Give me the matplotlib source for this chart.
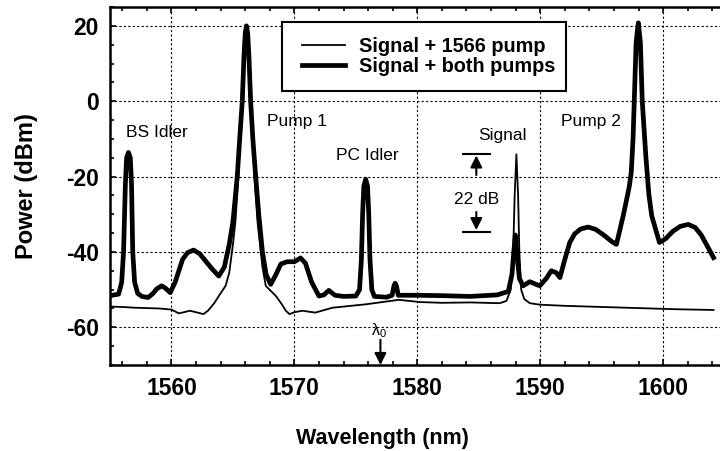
#!/usr/bin/env python3
import numpy as np
import matplotlib
matplotlib.use("Agg")
import matplotlib.pyplot as plt
from matplotlib.patches import Rectangle
from matplotlib.ticker import MultipleLocator

# Signal + 1566 pump (thin trace)
wl_one = [1555.0, 1556.0, 1557.0, 1558.0, 1559.0, 1560.0, 1560.6, 1561.0, 1561.5,
          1562.0, 1562.6, 1563.0, 1563.5, 1563.85, 1564.4, 1564.7, 1565.0, 1565.2,
          1565.45, 1565.7, 1565.85, 1566.0, 1566.1, 1566.2, 1566.35, 1566.5, 1566.75,
          1567.0, 1567.4, 1567.67, 1568.5, 1569.0, 1569.3, 1569.6, 1570.0, 1570.65,
          1571.7, 1573.1, 1575.8, 1578.5, 1580.2, 1582.0, 1584.3, 1586.7, 1587.25,
          1587.6, 1587.8, 1587.92, 1588.06, 1588.2, 1588.3, 1588.45, 1588.7, 1589.15,
          1590.0, 1592.0, 1595.0, 1598.0, 1601.0, 1604.1]
pw_one = [-54.5, -54.6, -54.8, -54.9, -55.0, -55.3, -56.3, -56.0, -55.6,
          -56.0, -56.5, -55.5, -53.5, -51.7, -49.0, -45.5, -38.0, -32.0,
          -20.0, 0.0, 12.0, 19.0, 20.0, 19.0, 12.0, 0.0, -20.0,
          -32.0, -44.0, -49.0, -51.7, -54.0, -55.6, -56.5, -56.0, -55.6,
          -56.1, -54.8, -53.9, -52.7, -53.3, -53.5, -53.4, -53.6, -53.0,
          -50.0, -40.0, -25.0, -14.1, -25.0, -40.0, -50.0, -52.5, -53.6,
          -54.0, -54.3, -54.6, -54.9, -55.2, -55.4]

# Signal + both pumps (thick trace)
wl_both = [1555.0, 1555.7, 1555.95, 1556.1, 1556.25, 1556.35, 1556.5, 1556.65, 1556.75,
           1556.85, 1557.0, 1557.25, 1557.6, 1558.1, 1558.5, 1558.8, 1559.2, 1559.5,
           1559.9, 1560.3, 1560.6, 1560.9, 1561.3, 1561.8, 1562.3, 1562.8, 1563.3,
           1563.85, 1564.3, 1564.7, 1565.0, 1565.35, 1565.55, 1565.76, 1565.9, 1566.0,
           1566.1, 1566.2, 1566.3, 1566.44, 1566.62, 1566.85, 1567.1, 1567.4, 1567.7,
           1568.07, 1568.5, 1568.9, 1569.4, 1570.0, 1570.5, 1570.9, 1571.4, 1572.0,
           1572.4, 1572.8, 1573.3, 1574.0, 1575.0, 1575.3, 1575.45, 1575.55, 1575.65,
           1575.8, 1575.95, 1576.05, 1576.15, 1576.3, 1576.5, 1577.5, 1577.95, 1578.1,
           1578.2, 1578.3, 1578.45, 1580.0, 1582.0, 1584.3, 1586.5, 1587.4, 1587.7,
           1587.85, 1587.97, 1588.1, 1588.3, 1588.6, 1589.15, 1589.96, 1590.5, 1590.9,
           1591.3, 1591.6, 1592.0, 1592.4, 1592.8, 1593.3, 1593.9, 1594.5, 1595.2,
           1595.8, 1596.2, 1596.75, 1597.1, 1597.25, 1597.4, 1597.47, 1597.55, 1597.65,
           1597.8, 1597.98, 1598.15, 1598.3, 1598.5, 1598.6, 1598.7, 1598.78, 1598.85,
           1599.07, 1599.7, 1600.2, 1600.8, 1601.4, 1602.05, 1602.6, 1603.1, 1603.6,
           1604.1]
pw_both = [-51.6, -51.2, -48.0, -40.0, -22.0, -15.0, -13.6, -15.0, -22.0,
           -40.0, -48.0, -51.0, -51.8, -52.1, -51.0, -49.8, -49.0, -49.6,
           -50.8, -48.0, -45.0, -42.0, -40.2, -39.5, -40.5, -42.5, -44.5,
           -46.4, -44.0, -38.0, -32.0, -20.0, -10.0, 0.0, 12.0, 18.0,
           20.0, 18.0, 12.0, 0.0, -10.0, -20.0, -30.0, -40.0, -46.0,
           -48.6, -46.0, -43.2, -42.6, -42.6, -41.6, -43.0, -48.0, -51.7,
           -51.4, -50.2, -51.5, -51.8, -51.7, -50.0, -42.0, -30.0, -22.5,
           -20.7, -22.5, -30.0, -42.0, -50.0, -51.8, -52.0, -51.5, -49.0,
           -48.3, -49.0, -51.5, -51.5, -51.6, -51.8, -51.4, -50.5, -46.0,
           -40.0, -35.5, -40.0, -47.0, -49.0, -47.9, -49.0, -47.0, -45.0,
           -45.5, -46.8, -42.0, -37.5, -35.2, -33.9, -33.4, -34.0, -35.6,
           -37.2, -38.0, -30.4, -25.0, -22.5, -19.0, -15.0, -10.0, 0.0,
           15.5, 20.8, 15.5, 0.0, -10.0, -15.0, -19.0, -22.5, -25.0,
           -30.4, -37.5, -36.5, -34.5, -33.2, -32.7, -33.5, -35.5, -38.5,
           -41.5]

peak_labels = ["BS Idler", "Pump 1", "PC Idler", "Signal", "Pump 2"]
peak_label_x = [1558.8, 1570.2, 1575.9, 1586.95, 1594.1]
peak_label_y = [-8.2, -5.3, -14.3, -9.0, -5.5]

plt.rcParams['font.family'] = ['Liberation Sans', 'DejaVu Sans']
plt.rcParams['axes.unicode_minus'] = False
plt.rcParams['mathtext.default'] = 'regular'

fig = plt.figure(figsize=(7.2, 4.51), dpi=100)
ax = fig.add_axes([0.1528, 0.1907, 0.8536, 0.7938])

ax.plot(wl_one, pw_one, color='black', lw=1.3, label='Signal + 1566 pump', zorder=3)
ax.plot(wl_both, pw_both, color='black', lw=3.4, label='Signal + both pumps',
        solid_joinstyle='round', zorder=2)

ax.set_xlim(1555, 1605)
ax.set_ylim(-70, 25)
ax.xaxis.set_major_locator(MultipleLocator(10))
ax.xaxis.set_minor_locator(MultipleLocator(2))
ax.yaxis.set_major_locator(MultipleLocator(20))
ax.yaxis.set_minor_locator(MultipleLocator(5))
ax.tick_params(which='both', direction='in', top=True, right=False, width=1.2)
ax.tick_params(which='major', length=4, labelsize=16.5)
ax.tick_params(axis='x', which='major', pad=9)
ax.tick_params(axis='y', which='major', pad=8)
ax.tick_params(which='minor', length=3)
for lab in ax.get_xticklabels() + ax.get_yticklabels():
    lab.set_fontweight('bold')
ax.grid(True, which='major', color='black', ls=(0, (2, 2)), lw=0.8)
for s in ax.spines.values():
    s.set_linewidth(1.8)

ax.set_xlabel('Wavelength (nm)', fontsize=15.5, fontweight='bold')
ax.set_ylabel('Power (dBm)', fontsize=17, fontweight='bold')
ax.xaxis.set_label_coords(0.444, -0.175)
ax.yaxis.set_label_coords(-0.117, 0.5)

for t, x, y in zip(peak_labels, peak_label_x, peak_label_y):
    ax.text(x, y, t, fontsize=12.5, ha='center', va='center')

arrow = dict(arrowstyle='-|>,head_length=0.5,head_width=0.25', color='black',
             lw=1.5, mutation_scale=14, shrinkA=0, shrinkB=0)

# 22 dB marker
ax.plot([1583.7, 1585.9], [-13.9, -13.9], color='black', lw=1.5)
ax.plot([1583.7, 1585.9], [-34.7, -34.7], color='black', lw=1.5)
ax.annotate('', xy=(1584.8, -14.4), xytext=(1584.8, -19.6), arrowprops=arrow)
ax.annotate('', xy=(1584.8, -34.2), xytext=(1584.8, -29.4), arrowprops=arrow)
ax.text(1584.8, -26.2, '22 dB', fontsize=12.5, ha='center', va='center')

# zero dispersion wavelength
ax.annotate('', xy=(1577.0, -70), xytext=(1577.0, -63.3), arrowprops=arrow)
ax.text(1576.85, -61.0, 'λ$_0$', fontsize=11.5, ha='center', va='center')

# legend with square frame
ax.add_patch(Rectangle((0.2794, 0.765), 0.4626, 0.192, transform=ax.transAxes,
                       fill=True, facecolor='white', edgecolor='black', lw=1.5, zorder=4))
leg = ax.legend(loc='center left', bbox_to_anchor=(0.312, 0.862), borderaxespad=0,
                frameon=False, prop={'weight': 'bold', 'size': 14.3},
                handlelength=2.18, handletextpad=0.72, labelspacing=0.08, borderpad=0)
leg.set_zorder(5)

fig.savefig('out.png', dpi=100)
